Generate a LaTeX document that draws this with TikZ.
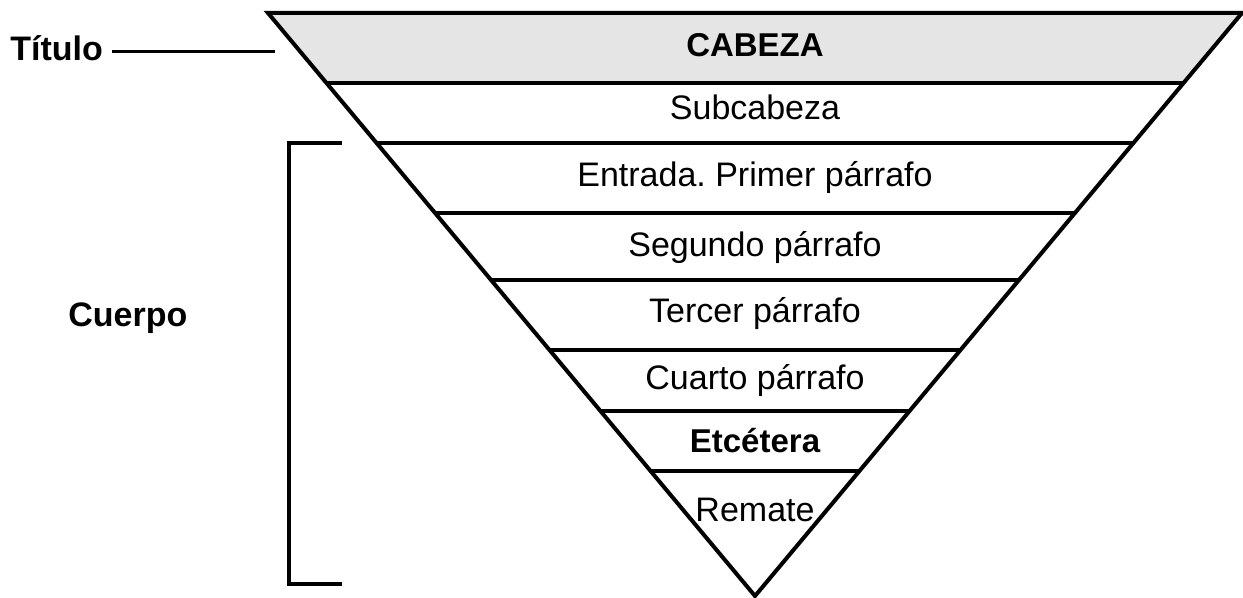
\documentclass[tikz,border=0pt]{standalone}
\usepackage{fontspec}
\setmainfont{Liberation Sans}
\usetikzlibrary{calc}
\frenchspacing
\begin{document}
\begin{tikzpicture}[x=0.5pt,y=-0.5pt,
  edge/.style={line width=2pt,line cap=round,line join=miter},
  band/.style={line width=1.8pt},
  lbl/.style={inner sep=0pt,anchor=base,font=\fontsize{17}{20}\selectfont},
  blbl/.style={lbl,font=\fontsize{16.5}{20}\selectfont\bfseries},
  side/.style={inner sep=0pt,anchor=base west,font=\fontsize{17}{20}\selectfont\bfseries}]
\useasboundingbox (0,0) rectangle (1243,598);
\coordinate (TL) at (268,13);
\coordinate (TR) at (1242,13);
\coordinate (A) at (755,596);
% shaded head band
\fill[black!10] (TL) -- (TR) -- ($(TR)!{70/583}!(A)$) -- ($(TL)!{70/583}!(A)$) -- cycle;
% horizontal bands clipped to triangle
\begin{scope}
\clip (TL) -- (TR) -- (A) -- cycle;
\foreach \yy in {83,143,213,280,350,411,471}
  \draw[band] (200,\yy) -- (1300,\yy);
\end{scope}
\draw[edge] (TL) -- (TR) -- (A) -- cycle;
% texts
\node[blbl] (cab) at (755,57) {CABEZA};
\node[lbl] (sub) at (755,120) {Subcabeza};
\node[lbl] (ent) at (755,187) {Entrada. Primer párrafo};
\node[lbl] (seg) at (755,257) {Segundo párrafo};
\node[lbl] (ter) at (755,323) {Tercer párrafo};
\node[lbl] (cua) at (755,390) {Cuarto párrafo};
\node[blbl] (etc) at (755,453) {Etcétera};
\node[lbl] (rem) at (755,522) {Remate};
% Titulo
\node[side] (tit) at (10,61) {Título};
\coordinate (tend) at (275,52);
\draw[line width=1.5pt] ($(tit.base east)+(9,-9)$) -- (tend);
% Cuerpo bracket
\node[side] (cue) at (68,327) {Cuerpo};
\coordinate (bt) at (342,143);
\coordinate (bb) at (342,584);
\draw[line width=2pt] (bt) -- (289,143) -- (289,584) -- (bb);
\end{tikzpicture}
\end{document}
